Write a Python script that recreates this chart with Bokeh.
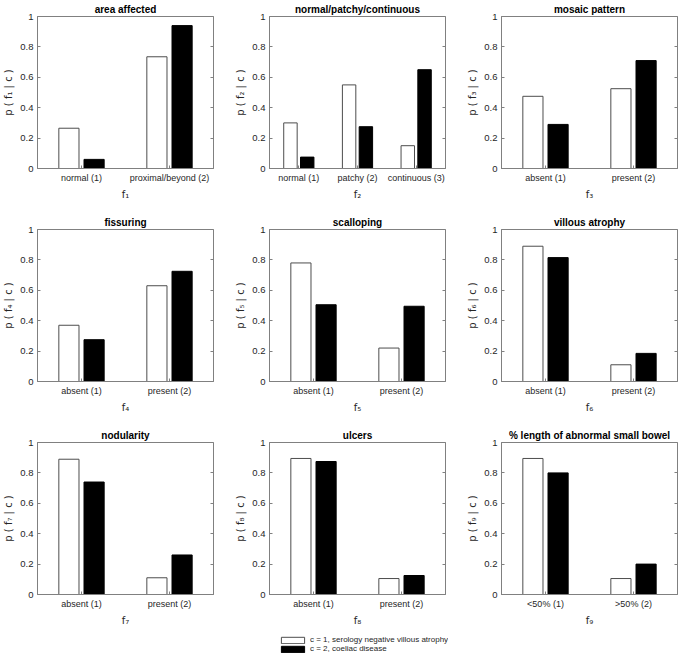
from bokeh.plotting import figure
from bokeh.models import (ColumnDataSource, FactorRange, FixedTicker, LinearAxis,
                          Legend, LegendItem, Range1d, CustomLabelingPolicy)
from bokeh.transform import dodge
from bokeh.layouts import column, row
from bokeh.embed import file_html
from bokeh.resources import INLINE

# ---------------- data ----------------
titles = ["area affected", "normal/patchy/continuous", "mosaic pattern",
          "fissuring", "scalloping", "villous atrophy",
          "nodularity", "ulcers", "% length of abnormal small bowel"]

f1_categories = ["normal (1)", "proximal/beyond (2)"]
f2_categories = ["normal (1)", "patchy (2)", "continuous (3)"]
f3_categories = ["absent (1)", "present (2)"]
f4_categories = ["absent (1)", "present (2)"]
f5_categories = ["absent (1)", "present (2)"]
f6_categories = ["absent (1)", "present (2)"]
f7_categories = ["absent (1)", "present (2)"]
f8_categories = ["absent (1)", "present (2)"]
f9_categories = ["<50% (1)", ">50% (2)"]

# c = 1, serology negative villous atrophy
f1_c1 = [0.265, 0.735]
f2_c1 = [0.30, 0.55, 0.15]
f3_c1 = [0.475, 0.525]
f4_c1 = [0.37, 0.63]
f5_c1 = [0.78, 0.22]
f6_c1 = [0.89, 0.11]
f7_c1 = [0.89, 0.11]
f8_c1 = [0.895, 0.105]
f9_c1 = [0.895, 0.105]

# c = 2, coeliac disease
f1_c2 = [0.06, 0.94]
f2_c2 = [0.075, 0.275, 0.65]
f3_c2 = [0.29, 0.71]
f4_c2 = [0.275, 0.725]
f5_c2 = [0.505, 0.495]
f6_c2 = [0.815, 0.185]
f7_c2 = [0.74, 0.26]
f8_c2 = [0.875, 0.125]
f9_c2 = [0.80, 0.20]

y_ticks = [0, 0.2, 0.4, 0.6, 0.8, 1]
y_tick_labels = ["0", "0.2", "0.4", "0.6", "0.8", "1"]
series_labels = ["c = 1, serology negative villous atrophy", "c = 2, coeliac disease"]
subscripts = ["\u2081", "\u2082", "\u2083", "\u2084", "\u2085", "\u2086", "\u2087", "\u2088", "\u2089"]

# ---------------- style ----------------
FONT = "Liberation Sans"
LFONT = "DejaVu Sans"
TEXT = "#262626"
AXC = "#808080"
WHITE_EDGE = "#4d4d4d"
FW, FH = 176, 152
LEFT = [34, 52, 52]
TOP = [12, 27, 27]
BW = 0.229
OFF = 0.143

all_cats = [f1_categories, f2_categories, f3_categories, f4_categories, f5_categories,
            f6_categories, f7_categories, f8_categories, f9_categories]
all_c1 = [f1_c1, f2_c1, f3_c1, f4_c1, f5_c1, f6_c1, f7_c1, f8_c1, f9_c1]
all_c2 = [f1_c2, f2_c2, f3_c2, f4_c2, f5_c2, f6_c2, f7_c2, f8_c2, f9_c2]

no_labels = CustomLabelingPolicy(code="for (const i of indices) { indices.unset(i) } return indices")
sources = []


def make_panel(i):
    r, c = divmod(i, 3)
    cats = all_cats[i]
    src = ColumnDataSource(dict(cat=cats, c1=all_c1[i], c2=all_c2[i]))
    sources.append(src)
    p = figure(x_range=FactorRange(*cats), y_range=Range1d(0, 1),
               frame_width=FW, frame_height=FH,
               output_backend="svg", toolbar_location=None,
               min_border_left=LEFT[c], min_border_right=3,
               min_border_top=TOP[r], min_border_bottom=34,
               title=titles[i])
    p.title.text_font = FONT
    p.title.text_font_size = "10px"
    p.title.text_font_style = "bold"
    p.title.text_color = "black"
    p.title.align = "center"
    p.title.standoff = 3
    p.grid.visible = False
    p.outline_line_color = AXC
    p.outline_line_width = 1
    p.background_fill_color = "white"

    p.vbar(x=dodge("cat", -OFF, range=p.x_range), top="c1", width=BW, bottom=0,
           source=src, fill_color="white", line_color=WHITE_EDGE, line_width=1)
    p.vbar(x=dodge("cat", OFF, range=p.x_range), top="c2", width=BW, bottom=0,
           source=src, fill_color="black", line_color="black", line_width=1)

    ax = p.xaxis[0]
    ax.axis_label = "f" + subscripts[i]
    ax.axis_label_text_font = LFONT
    ax.axis_label_text_font_size = "10px"
    ax.axis_label_text_font_style = "normal"
    ax.axis_label_text_color = TEXT
    ax.axis_label_standoff = 3
    ax.major_label_text_font = FONT
    ax.major_label_text_font_size = "9px"
    ax.major_label_text_color = TEXT
    ax.major_label_standoff = 4
    ax.major_tick_in = 3
    ax.major_tick_out = 0
    ax.major_tick_line_color = AXC
    ax.axis_line_color = AXC

    ay = p.yaxis[0]
    ay.ticker = FixedTicker(ticks=y_ticks)
    ay.major_label_overrides = {t: s for t, s in zip(y_ticks, y_tick_labels)}
    ay.axis_label = "p ( f" + subscripts[i] + " | c )"
    ay.axis_label_text_font = LFONT
    ay.axis_label_text_font_size = "10px"
    ay.axis_label_text_font_style = "normal"
    ay.axis_label_text_color = TEXT
    ay.axis_label_standoff = 3
    ay.major_label_text_font = FONT
    ay.major_label_text_font_size = "9.5px"
    ay.major_label_text_color = TEXT
    ay.major_label_standoff = 4
    ay.major_tick_in = 3
    ay.major_tick_out = 0
    ay.minor_tick_line_color = None
    ay.major_tick_line_color = AXC
    ay.axis_line_color = AXC

    rax = LinearAxis(ticker=FixedTicker(ticks=y_ticks), major_label_policy=no_labels,
                     major_label_text_font_size="1px",
                     major_label_standoff=0, major_tick_in=3, major_tick_out=0,
                     minor_tick_line_color=None, axis_line_color=None,
                     major_tick_line_color=AXC)
    p.add_layout(rax, "right")
    return p


panels = [make_panel(i) for i in range(9)]

# ---------------- legend (own small figure, swatches from hidden copies of the series) ----------------
pl = figure(x_range=FactorRange(*f8_categories), y_range=Range1d(0, 1),
            frame_width=170, frame_height=19, output_backend="svg", toolbar_location=None,
            x_axis_type=None, y_axis_type=None,
            min_border_left=278, min_border_right=0, min_border_top=7, min_border_bottom=0)
pl.outline_line_color = None
pl.grid.visible = False
lr1 = pl.vbar(x=dodge("cat", -OFF, range=pl.x_range), top="c1", width=BW, source=sources[7],
              fill_color="white", line_color=WHITE_EDGE, line_width=1, visible=False)
lr2 = pl.vbar(x=dodge("cat", OFF, range=pl.x_range), top="c2", width=BW, source=sources[7],
              fill_color="black", line_color="black", line_width=1, visible=False)
legend = Legend(items=[LegendItem(label=series_labels[0], renderers=[lr1]),
                       LegendItem(label=series_labels[1], renderers=[lr2])],
                location="top_left", orientation="vertical", click_policy="none",
                border_line_color=None, background_fill_alpha=0, inactive_fill_alpha=0,
                glyph_width=29, glyph_height=8, label_height=8, spacing=0,
                padding=0, margin=0, label_standoff=3,
                label_text_font=FONT, label_text_font_size="8px", label_text_color=TEXT)
pl.add_layout(legend, "center")

layout = column(row(*panels[0:3]), row(*panels[3:6]), row(*panels[6:9]), pl)

open("out.html", "w").write(file_html(layout, INLINE))
